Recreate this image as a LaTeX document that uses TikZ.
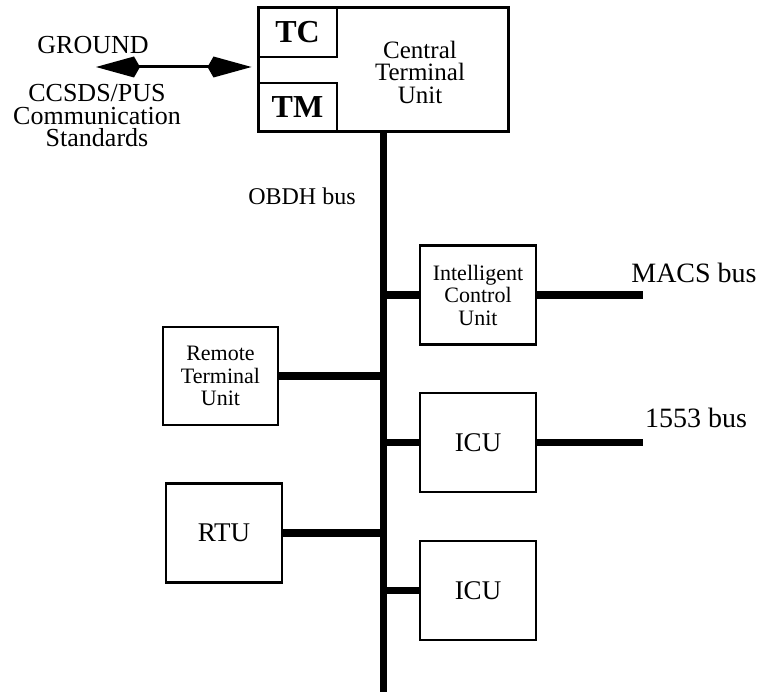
\documentclass[tikz,border=0pt]{standalone}
\usepackage{fontspec}
\setmainfont{Liberation Serif}
\usetikzlibrary{arrows.meta}

\begin{document}
\begin{tikzpicture}[x=1pt, y=-1pt,
    unit/.style={draw, line width=2.5pt, inner sep=0pt, minimum width=116pt, minimum height=99pt, align=center, font=\fontsize{22}{22.5}\selectfont},
    bigunit/.style={unit, font=\fontsize{27}{27}\selectfont},
    tag/.style={draw, line width=2pt, inner sep=0pt, minimum width=79pt, minimum height=49pt, font=\fontsize{32}{32}\selectfont\bfseries},
    bus/.style={line width=7pt},
    stub/.style={line width=7.5pt},
    link/.style={line width=3pt, {Kite[length=44pt,width=21pt,inset=6pt]}-{Kite[length=44pt,width=21pt,inset=6pt]}},
    lbl/.style={inner sep=0pt, align=center, font=\fontsize{25}{22.5}\selectfont},
    buslbl/.style={inner sep=0pt, font=\fontsize{28}{28}\selectfont}]

\useasboundingbox (0,0) rectangle (776,692);

% Central terminal unit
\node[draw, line width=3pt, inner sep=0pt, minimum width=250pt, minimum height=124pt] (ctu) at (383,70) {};
\node[tag] (tc) at (297.5,32.5) {TC};
\node[tag] (tm) at (297.5,107.5) {TM};
\node[lbl] (ctutext) at (420,72) {Central\\Terminal\\Unit};

% Ground link
\node[lbl, font=\fontsize{26}{22.5}\selectfont] (ground) at (93,45) {GROUND};
\node[lbl, font=\fontsize{26}{22.5}\selectfont] (ccsds) at (97,116) {CCSDS/PUS\\Communication\\Standards};
\coordinate (gnd) at (96,67);
\draw[link, shorten >=5pt] (gnd) -- (gnd -| ctu.west);

% OBDH bus
\coordinate (busend) at (383,692);
\draw[bus] (ctu.south) -- (busend);
\node[lbl, font=\fontsize{24}{24}\selectfont] (obdh) at (302,196) {OBDH bus};

% Units on the bus
\node[unit] (ctrl) at (478,295) {Intelligent\\Control\\Unit};
\node[unit, minimum width=115pt, minimum height=98pt] (rtu) at (220.5,376) {Remote\\Terminal\\Unit};
\node[bigunit] (icua) at (478,442.5) {ICU};
\node[bigunit] (rtub) at (224,533) {RTU};
\node[bigunit] (icub) at (478,590.5) {ICU};

\draw[stub] (ctrl.west) -- (ctrl.west -| busend);
\draw[stub] (rtu.east) -- (rtu.east -| busend);
\draw[stub] (icua.west) -- (icua.west -| busend);
\draw[stub] (rtub.east) -- (rtub.east -| busend);
\draw[stub] (icub.west) -- (icub.west -| busend);

% Field buses
\coordinate (macs) at (643,297);
\coordinate (milbus) at (643,443);
\draw[stub] (ctrl.east) -- (ctrl.east -| macs);
\draw[stub] (icua.east) -- (icua.east -| milbus);
\node[buslbl] (macslbl) at (694,273) {MACS bus};
\node[buslbl] (millbl) at (696,417.5) {1553 bus};
\end{tikzpicture}
\end{document}
